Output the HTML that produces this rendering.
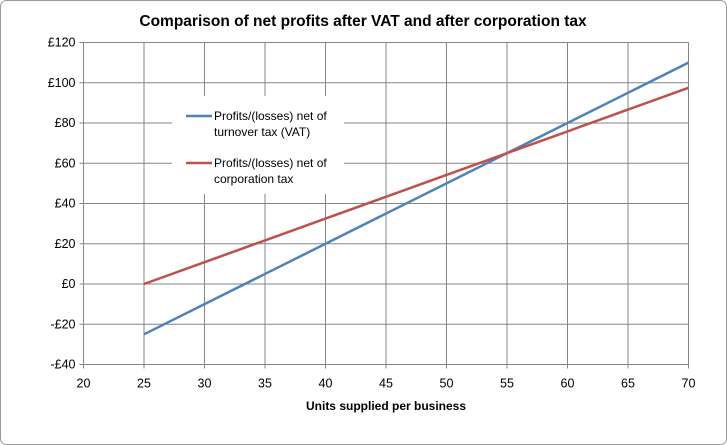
<!DOCTYPE html>
<html><head><meta charset="utf-8"><style>
body{margin:0;background:#fff;}
svg{display:block;font-family:"Liberation Sans",Arial,sans-serif;}
</style></head><body>
<svg width="727" height="445">
<rect x="0.5" y="0.5" width="726" height="444" rx="6" fill="#fff" stroke="#999"/>
<text x="363" y="26" text-anchor="middle" font-size="15.5" font-weight="bold" fill="#000">Comparison of net profits after VAT and after corporation tax</text>
<g id="grid"></g>
<g id="series"></g>
<g>
<rect x="172" y="96" width="172" height="98" fill="#fff"/>
<line x1="186" y1="116" x2="212" y2="116" stroke="#4F81BD" stroke-width="2.5"/>
<text x="214" y="120" font-size="12">Profits/(losses) net of</text>
<text x="214" y="136" font-size="12">turnover tax (VAT)</text>
<line x1="186" y1="163" x2="212" y2="163" stroke="#C0504D" stroke-width="2.5"/>
<text x="214" y="167" font-size="12">Profits/(losses) net of</text>
<text x="214" y="183" font-size="12">corporation tax</text>
</g>
<text x="386" y="410" text-anchor="middle" font-size="12" font-weight="bold">Units supplied per business</text>
</svg>
<script>
const xTicks=[20,25,30,35,40,45,50,55,60,65,70];
const yTicks=[-40,-20,0,20,40,60,80,100,120];
const yLabels=["-£40","-£20","£0","£20","£40","£60","£80","£100","£120"];
const units=[25,30,35,40,45,50,55,60,65,70];
const vatProfit=[-25,-10,5,20,35,50,65,80,95,110];
const corpProfit=[0,10.83,21.67,32.5,43.33,54.17,65,75.83,86.67,97.5];
const L=83.5,R=688.5,T=42.5,B=364.5;
const X=v=>L+(v-20)/50*(R-L);
const Y=v=>B-(v+40)/160*(B-T);
const ns="http://www.w3.org/2000/svg";
const grid=document.getElementById('grid'),ser=document.getElementById('series');
function mk(tag,a,p){const e=document.createElementNS(ns,tag);for(const k in a)e.setAttribute(k,a[k]);p.appendChild(e);return e;}
xTicks.forEach(t=>{
 const l=mk('line',{x1:X(t),x2:X(t),y1:T,y2:B+4,stroke:'#868686','stroke-width':1},grid);
 
 
 const tx=mk('text',{x:X(t),y:B+23,'text-anchor':'middle','font-size':12.5},grid);tx.textContent=t;
 
 
});
yTicks.forEach((t,i)=>{
 const l=mk('line',{x1:L-4,x2:R,y1:Y(t),y2:Y(t),stroke:'#868686','stroke-width':1},grid);
 
 
 const tx=mk('text',{x:L-8,y:Y(t)+4,'text-anchor':'end','font-size':12.5},grid);tx.textContent=yLabels[i];
 
 
});
[[vatProfit,'#4F81BD','vat-line'],[corpProfit,'#C0504D','corp-tax-line']].forEach(([d,c,n])=>{
 const p=mk('polyline',{points:units.map((u,i)=>X(u)+','+Y(d[i])).join(' '),fill:'none',stroke:c,'stroke-width':2.5},ser);
 
 
});
</script>
</body></html>
